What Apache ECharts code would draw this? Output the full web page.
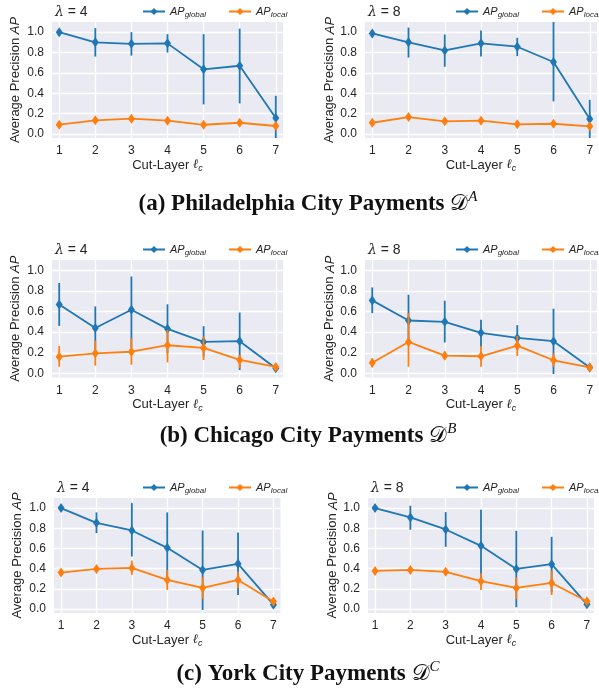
<!DOCTYPE html>
<html>
<head>
<meta charset="utf-8">
<script src="https://cdn.jsdelivr.net/npm/echarts@6/dist/echarts.min.js"></script>
<style>html,body{margin:0;padding:0;background:#fff}#c{width:599px;height:696px}</style>
</head>
<body>
<div id="c"></div>
<script>
const cutLayers = [1, 2, 3, 4, 5, 6, 7];
const yTicks = [0, 0.2, 0.4, 0.6, 0.8, 1.0];
const lambdas = ['4', '8'];
const captions = ['(a) Philadelphia City Payments ', '(b) Chicago City Payments ', '(c) York City Payments '];
const captionSup = ['A', 'B', 'C'];

// Philadelphia, lambda = 4
const phl4Global = [1.0, 0.90, 0.886, 0.89, 0.635, 0.67, 0.156];
const phl4GlobalLow = [0.975, 0.76, 0.77, 0.80, 0.29, 0.30, -0.06];
const phl4GlobalHigh = [1.02, 1.04, 1.0, 0.98, 0.98, 1.035, 0.375];
const phl4Local = [0.091, 0.134, 0.15, 0.13, 0.09, 0.11, 0.078];
const phl4LocalLow = [0.065, 0.105, 0.12, 0.105, 0.07, 0.08, 0.045];
const phl4LocalHigh = [0.12, 0.16, 0.18, 0.155, 0.11, 0.14, 0.11];
// Philadelphia, lambda = 8
const phl8Global = [0.987, 0.90, 0.82, 0.89, 0.857, 0.707, 0.147];
const phl8GlobalLow = [0.95, 0.75, 0.66, 0.76, 0.765, 0.32, -0.06];
const phl8GlobalHigh = [1.02, 1.045, 0.977, 1.016, 0.945, 1.12, 0.335];
const phl8Local = [0.11, 0.166, 0.124, 0.13, 0.094, 0.10, 0.075];
const phl8LocalLow = [0.085, 0.14, 0.104, 0.11, 0.074, 0.08, 0.045];
const phl8LocalHigh = [0.135, 0.19, 0.144, 0.15, 0.114, 0.12, 0.105];
// Chicago, lambda = 4
const chi4Global = [0.669, 0.44, 0.617, 0.432, 0.305, 0.312, 0.049];
const chi4GlobalLow = [0.461, 0.234, 0.25, 0.195, 0.162, 0.032, 0.02];
const chi4GlobalHigh = [0.877, 0.65, 0.94, 0.67, 0.458, 0.59, 0.075];
const chi4Local = [0.162, 0.195, 0.21, 0.273, 0.247, 0.13, 0.062];
const chi4LocalLow = [0.065, 0.075, 0.084, 0.107, 0.13, 0.05, 0.035];
const chi4LocalHigh = [0.266, 0.318, 0.34, 0.42, 0.357, 0.18, 0.09];
// Chicago, lambda = 8
const chi8Global = [0.708, 0.513, 0.50, 0.393, 0.344, 0.312, 0.058];
const chi8GlobalLow = [0.584, 0.276, 0.30, 0.253, 0.227, -0.006, 0.035];
const chi8GlobalHigh = [0.834, 0.763, 0.705, 0.52, 0.468, 0.627, 0.075];
const chi8Local = [0.104, 0.305, 0.172, 0.166, 0.27, 0.127, 0.058];
const chi8LocalLow = [0.058, 0.065, 0.136, 0.065, 0.169, 0.065, 0.03];
const chi8LocalHigh = [0.146, 0.584, 0.214, 0.266, 0.364, 0.195, 0.09];
// York, lambda = 4
const yor4Global = [1.0, 0.854, 0.778, 0.606, 0.387, 0.447, 0.043];
const yor4GlobalLow = [0.98, 0.752, 0.52, 0.255, -0.01, 0.139, 0.015];
const yor4GlobalHigh = [1.02, 0.957, 1.05, 0.957, 0.778, 0.758, 0.07];
const yor4Local = [0.361, 0.397, 0.407, 0.288, 0.209, 0.288, 0.073];
const yor4LocalLow = [0.328, 0.372, 0.338, 0.189, 0.096, 0.205, 0.045];
const yor4LocalHigh = [0.397, 0.422, 0.48, 0.387, 0.32, 0.368, 0.10];
// York, lambda = 8
const yor8Global = [1.0, 0.907, 0.788, 0.626, 0.397, 0.444, 0.046];
const yor8GlobalLow = [0.98, 0.785, 0.616, 0.255, 0.017, 0.166, 0.02];
const yor8GlobalHigh = [1.02, 1.023, 0.96, 0.983, 0.775, 0.715, 0.075];
const yor8Local = [0.377, 0.387, 0.368, 0.275, 0.209, 0.258, 0.076];
const yor8LocalLow = [0.347, 0.362, 0.343, 0.189, 0.096, 0.139, 0.046];
const yor8LocalHigh = [0.407, 0.412, 0.393, 0.354, 0.315, 0.38, 0.106];

const panels = [
  {lam: 0, g: phl4Global, gl: phl4GlobalLow, gh: phl4GlobalHigh, l: phl4Local, ll: phl4LocalLow, lh: phl4LocalHigh},
  {lam: 1, g: phl8Global, gl: phl8GlobalLow, gh: phl8GlobalHigh, l: phl8Local, ll: phl8LocalLow, lh: phl8LocalHigh},
  {lam: 0, g: chi4Global, gl: chi4GlobalLow, gh: chi4GlobalHigh, l: chi4Local, ll: chi4LocalLow, lh: chi4LocalHigh},
  {lam: 1, g: chi8Global, gl: chi8GlobalLow, gh: chi8GlobalHigh, l: chi8Local, ll: chi8LocalLow, lh: chi8LocalHigh},
  {lam: 0, g: yor4Global, gl: yor4GlobalLow, gh: yor4GlobalHigh, l: yor4Local, ll: yor4LocalLow, lh: yor4LocalHigh},
  {lam: 1, g: yor8Global, gl: yor8GlobalLow, gh: yor8GlobalHigh, l: yor8Local, ll: yor8LocalLow, lh: yor8LocalHigh}
];

// layout (pixels)
const gridBoxes = [
  {left: 52, top: 22, width: 231, height: 116},
  {left: 365, top: 22, width: 232, height: 116},
  {left: 52, top: 260, width: 231, height: 117.5},
  {left: 365, top: 260, width: 232, height: 117.5},
  {left: 54, top: 498, width: 226.5, height: 115},
  {left: 368, top: 498, width: 226, height: 115}
];
const X_MIN = 0.8, X_MAX = 7.2, Y_MIN = -0.04, Y_MAX = 1.1;
const BLUE = '#1f77b4', ORANGE = '#ff7f0e', TXT = '#262626';
const SANS = 'Liberation Sans';

const grids = [], xAxes = [], yAxes = [], series = [], legends = [], graphics = [];

function errSeries(i, lo, hi, color, z) {
  return {
    type: 'custom', xAxisIndex: i, yAxisIndex: i, z: z, silent: true,
    data: cutLayers.map((x, k) => [x, lo[k], hi[k]]),
    renderItem: function (params, api) {
      const a = Math.max(Y_MIN, api.value(1));
      const b = Math.min(Y_MAX, api.value(2));
      const p1 = api.coord([api.value(0), a]);
      const p2 = api.coord([api.value(0), b]);
      return {type: 'line', shape: {x1: p1[0], y1: p1[1], x2: p2[0], y2: p2[1]},
        style: {stroke: color, lineWidth: 1.8}};
    }
  };
}
function lineSeries(i, name, vals, color, z) {
  return {
    type: 'line', name: name, xAxisIndex: i, yAxisIndex: i, z: z,
    data: cutLayers.map((x, k) => [x, vals[k]]),
    symbol: 'diamond', symbolSize: [7, 10], showSymbol: true,
    lineStyle: {color: color, width: 1.8}, itemStyle: {color: color},
    emphasis: {disabled: true}, animation: false
  };
}

panels.forEach((p, i) => {
  const gb = gridBoxes[i];
  grids.push(Object.assign({show: true, backgroundColor: '#EAEAF2', borderWidth: 0, containLabel: false}, gb));
  xAxes.push({
    type: 'value', gridIndex: i, min: X_MIN, max: X_MAX,
    axisLine: {show: false},
    axisTick: {show: false, customValues: cutLayers},
    axisLabel: {customValues: cutLayers, color: TXT, fontFamily: SANS, fontSize: 12, margin: 7},
    splitLine: {show: true, lineStyle: {color: '#ffffff', width: 1.3}},
    name: '{n|Cut-Layer }{l|ℓ}{s|c}', nameLocation: 'middle', nameGap: 19,
    nameTextStyle: {rich: {
      n: {fontFamily: SANS, fontSize: 13, color: TXT, lineHeight: 16},
      l: {fontFamily: 'DejaVu Serif', fontStyle: 'italic', fontSize: 13, color: TXT, lineHeight: 16},
      s: {fontFamily: SANS, fontStyle: 'italic', fontSize: 9, color: TXT, lineHeight: 9, verticalAlign: 'bottom'}
    }}
  });
  yAxes.push({
    type: 'value', gridIndex: i, min: Y_MIN, max: Y_MAX,
    axisLine: {show: false},
    axisTick: {show: false, customValues: yTicks},
    axisLabel: {customValues: yTicks, color: TXT, fontFamily: SANS, fontSize: 12, margin: 8,
      formatter: v => v.toFixed(1)},
    splitLine: {show: true, lineStyle: {color: '#ffffff', width: 1.3}},
    name: '{n|Average Precision }{i|AP}', nameLocation: 'middle', nameGap: i % 2 ? 28 : 30, nameRotate: 90,
    nameTextStyle: {rich: {
      n: {fontFamily: SANS, fontSize: 13, color: TXT},
      i: {fontFamily: SANS, fontStyle: 'italic', fontSize: 13, color: TXT}
    }}
  });
  series.push(errSeries(i, p.gl, p.gh, BLUE, 2));
  series.push(lineSeries(i, 'AP_global', p.g, BLUE, 3));
  series.push(errSeries(i, p.ll, p.lh, ORANGE, 4));
  series.push(lineSeries(i, 'AP_local', p.l, ORANGE, 5));

  const right = i % 2 === 1;
  legends.push({
    left: right ? 455 : 142, top: gb.top - 16, width: 320, padding: 0,
    itemWidth: 22, itemHeight: 9, itemGap: 22,
    data: ['AP_global', 'AP_local'], selectedMode: false,
    formatter: n => n === 'AP_global' ? '{i|AP}{s|global}' : '{i|AP}{s|local}',
    textStyle: {rich: {
      i: {fontFamily: SANS, fontStyle: 'italic', fontSize: 11, color: TXT, lineHeight: 14},
      s: {fontFamily: SANS, fontStyle: 'italic', fontSize: 8, color: TXT, lineHeight: 9, verticalAlign: 'bottom'}
    }}
  });
  graphics.push({
    type: 'text', left: gb.left + 3, top: gb.top - 17,
    style: {text: '{l|λ} = ' + lambdas[p.lam], rich: {
      l: {fontFamily: 'DejaVu Serif', fontStyle: 'italic', fontSize: 14, fill: TXT}
    }, fontFamily: SANS, fontSize: 14, fill: TXT}
  });
});

const captionY = [204, 436, 674];
captions.forEach((c, k) => {
  graphics.push({
    type: 'text', x: 308, y: captionY[k],
    style: {text: '{m|' + c + '}{d|𝒟}{u|' + captionSup[k] + '}', align: 'center', verticalAlign: 'middle',
      rich: {
        m: {fontFamily: 'Liberation Serif', fontWeight: 'bold', fontSize: 23, fill: '#111', lineHeight: 28},
        d: {fontFamily: 'DejaVu Sans', fontSize: 22, fill: '#111', lineHeight: 28},
        u: {fontFamily: 'Liberation Serif', fontStyle: 'italic', fontSize: 15, fill: '#111', lineHeight: 16, verticalAlign: 'top'}
      }}
  });
});

const chart = echarts.init(document.getElementById('c'), null, {renderer: 'canvas'});
chart.setOption({
  animation: false,
  backgroundColor: '#ffffff',
  grid: grids, xAxis: xAxes, yAxis: yAxes, series: series, legend: legends, graphic: graphics
});
</script>
</body>
</html>
